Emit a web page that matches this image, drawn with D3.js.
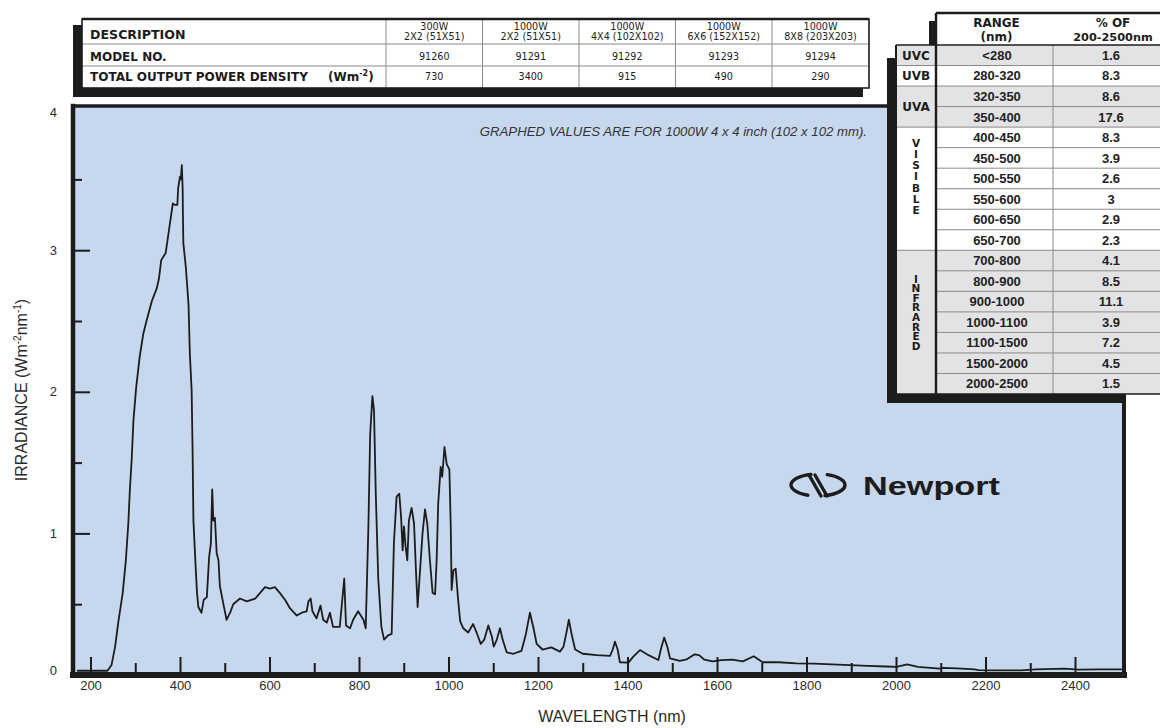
<!DOCTYPE html>
<html>
<head>
<meta charset="utf-8">
<script src="https://cdn.jsdelivr.net/npm/d3@7"></script>
<style>
  html, body { margin: 0; padding: 0; background: #ffffff; }
  svg { display: block; }
</style>
</head>
<body>
<svg id="chart" width="1160" height="728"></svg>
<script>
// ---- Spectral irradiance, 1000 W lamp, 4 x 4 inch beam ----
const wavelength = [
  170, 238, 247, 255, 262, 272, 279, 284.5, 288, 292, 296, 302, 310, 318, 326, 337, 348, 353, 358, 368,
  378, 384, 389, 394, 396, 400, 402, 404, 406, 406.5, 407.5, 413, 419, 422, 426, 428, 430, 435, 438, 441,
  448, 453, 460, 465, 469, 472, 474.5, 478, 482, 486, 489, 497, 504, 512, 519, 534, 549, 568, 579, 590,
  601, 612, 623, 635, 646, 661, 672, 683, 687, 692, 696, 705, 714, 720, 728, 735, 742, 757, 767, 771,
  780, 787, 798, 810, 815, 821, 825, 830, 833.5, 837.5, 843, 850, 856, 865, 873, 878, 884, 890, 894, 897.5,
  900.5, 904, 908, 911.5, 917.5, 923, 927.5, 931, 936, 942, 947.5, 952.5, 958.5, 964.5, 970, 973.5, 977, 982.5, 986, 991,
  996, 1002, 1005, 1007, 1011, 1016, 1021, 1026, 1033, 1044, 1055, 1064, 1072, 1080, 1089, 1097, 1101, 1108, 1115, 1121,
  1130, 1145, 1163, 1173, 1182, 1190, 1197, 1210, 1230, 1249, 1257, 1263, 1269, 1275, 1283, 1300, 1331, 1361, 1367, 1372,
  1378, 1383, 1402, 1413, 1428, 1447, 1469, 1476, 1482, 1489, 1495, 1517, 1532, 1550, 1560, 1572, 1590, 1610, 1634, 1658,
  1682, 1702, 1738, 1777, 1817, 1857, 1897, 1937, 1977, 2001, 2025, 2049, 2097, 2105, 2137, 2176, 2184, 2216, 2280, 2312,
  2376, 2408, 2456, 2505
];
const irradiance = [
  0.03, 0.03, 0.07, 0.2, 0.37, 0.58, 0.81, 1.07, 1.31, 1.52, 1.8, 2.03, 2.25, 2.41, 2.51, 2.64, 2.73, 2.8, 2.93, 2.98,
  3.2, 3.33, 3.32, 3.32, 3.44, 3.52, 3.5, 3.6, 3.43, 3.26, 3.05, 2.88, 2.62, 2.27, 2.01, 1.61, 1.09, 0.76, 0.58, 0.48,
  0.44, 0.53, 0.55, 0.83, 0.93, 1.31, 1.09, 1.11, 0.86, 0.81, 0.63, 0.5, 0.39, 0.44, 0.5, 0.54, 0.52, 0.54, 0.58, 0.62,
  0.61, 0.62, 0.58, 0.53, 0.47, 0.42, 0.44, 0.45, 0.52, 0.54, 0.45, 0.4, 0.49, 0.39, 0.37, 0.44, 0.34, 0.34, 0.68, 0.35,
  0.33, 0.39, 0.45, 0.39, 0.33, 1.05, 1.7, 1.97, 1.87, 1.28, 0.68, 0.34, 0.25, 0.28, 0.29, 0.93, 1.26, 1.28, 1.12, 0.88,
  1.05, 0.91, 0.81, 1.09, 1.18, 1.07, 0.72, 0.48, 0.72, 1.0, 1.17, 1.07, 0.81, 0.58, 0.57, 0.81, 1.21, 1.47, 1.4, 1.61,
  1.49, 1.45, 1.05, 0.6, 0.74, 0.75, 0.55, 0.38, 0.33, 0.3, 0.36, 0.29, 0.22, 0.25, 0.35, 0.27, 0.2, 0.25, 0.33, 0.25,
  0.16, 0.15, 0.17, 0.29, 0.44, 0.33, 0.22, 0.18, 0.195, 0.165, 0.2, 0.29, 0.39, 0.29, 0.18, 0.15, 0.14, 0.135, 0.18, 0.235,
  0.18, 0.09, 0.087, 0.13, 0.176, 0.14, 0.106, 0.2, 0.264, 0.2, 0.118, 0.1, 0.11, 0.146, 0.14, 0.108, 0.096, 0.105, 0.108, 0.096,
  0.132, 0.09, 0.09, 0.082, 0.08, 0.075, 0.07, 0.065, 0.06, 0.058, 0.075, 0.058, 0.045, 0.05, 0.047, 0.04, 0.035, 0.032, 0.033, 0.04,
  0.045, 0.038, 0.04, 0.04
];

// Axis ticks
const xMajorTicks = [200, 400, 600, 800, 1000, 1200, 1400, 1600, 1800, 2000, 2200, 2400];
const xMinorTicks = [300, 500, 700, 900, 1100, 1300, 1500, 1700, 1900, 2100, 2300];
const yMajorTicks = [1, 2, 3];
const yMinorTicks = [0.5, 1.5, 2.5, 3.5];
const yTickLabels = [0, 1, 2, 3, 4];

// Lamp / model table
const tableRowLabels = ["DESCRIPTION", "MODEL NO.", "TOTAL OUTPUT POWER DENSITY"];
const lampPower = ["300W", "1000W", "1000W", "1000W", "1000W"];
const beamSize = ["2X2 (51X51)", "2X2 (51X51)", "4X4 (102X102)", "6X6 (152X152)", "8X8 (203X203)"];
const modelNumbers = ["91260", "91291", "91292", "91293", "91294"];
const powerDensity = ["730", "3400", "915", "490", "290"];

// Spectral band table
const bandNames = ["UVC", "UVB", "UVA", "VISIBLE", "INFRARED"];
const bandRowCounts = [1, 1, 2, 6, 7];
const bandRanges = ["<280", "280-320", "320-350", "350-400", "400-450", "450-500", "500-550", "550-600",
  "600-650", "650-700", "700-800", "800-900", "900-1000", "1000-1100", "1100-1500", "1500-2000", "2000-2500"];
const bandPercent = ["1.6", "8.3", "8.6", "17.6", "8.3", "3.9", "2.6", "3", "2.9", "2.3",
  "4.1", "8.5", "11.1", "3.9", "7.2", "4.5", "1.5"];

// ---------------------------------------------------------------
const INK = "#1c1c1c";
const GRID = "#8a8a8a";
const SHADE = "#e3e3e5";
const HEAVY = "'DejaVu Sans', sans-serif";
const PLAIN = "'Liberation Sans', Arial, sans-serif";

const svg = d3.select("#chart");
svg.append("rect").attr("width", 1160).attr("height", 728).attr("fill", "#ffffff");

const plotBox = { left: 73, right: 1124, top: 106, bottom: 675 };
const x = d3.scaleLinear().domain([200, 2400]).range([90.5, 1075]);
const y = d3.scaleLinear().domain([0, 4]).range([675, 108.6]);

// plot background
svg.append("rect")
  .attr("x", plotBox.left).attr("y", plotBox.top)
  .attr("width", plotBox.right - plotBox.left).attr("height", plotBox.bottom - plotBox.top)
  .attr("fill", "#c7d8ee");

svg.append("clipPath").attr("id", "plotClip").append("rect")
  .attr("x", plotBox.left + 2).attr("y", plotBox.top + 2)
  .attr("width", plotBox.right - plotBox.left - 4).attr("height", plotBox.bottom - plotBox.top - 4);

// spectrum
const points = wavelength.map((w, i) => [w, irradiance[i]]);
svg.append("path")
  .datum(points)
  .attr("clip-path", "url(#plotClip)")
  .attr("fill", "none")
  .attr("stroke", INK)
  .attr("stroke-width", 1.8)
  .attr("stroke-linejoin", "round")
  .attr("d", d3.line().x(d => x(d[0])).y(d => y(d[1])));

// y ticks (inside, pointing right)
function styleTicks(g) {
  g.select(".domain").remove();
  g.selectAll(".tick line").attr("stroke", INK).attr("stroke-width", 2);
  g.selectAll(".tick text").remove();
}
svg.append("g").attr("transform", `translate(${plotBox.left},0)`)
  .call(d3.axisRight(y).tickValues(yMajorTicks).tickSize(17)).call(styleTicks);
svg.append("g").attr("transform", `translate(${plotBox.left},0)`)
  .call(d3.axisRight(y).tickValues(yMinorTicks).tickSize(9)).call(styleTicks);

// x ticks (inside, pointing up)
svg.append("g").attr("transform", `translate(0,${plotBox.bottom - 3})`)
  .call(d3.axisTop(x).tickValues(xMajorTicks).tickSize(15)).call(styleTicks);
svg.append("g").attr("transform", `translate(0,${plotBox.bottom - 3})`)
  .call(d3.axisTop(x).tickValues(xMinorTicks).tickSize(9)).call(styleTicks);

// frame
const fr = svg.append("g").attr("stroke", INK).attr("stroke-linecap", "square");
fr.append("line").attr("x1", plotBox.left).attr("x2", plotBox.right).attr("y1", plotBox.top).attr("y2", plotBox.top).attr("stroke-width", 3.5);
fr.append("line").attr("x1", plotBox.left).attr("x2", plotBox.left).attr("y1", plotBox.top).attr("y2", plotBox.bottom).attr("stroke-width", 4.5);
fr.append("line").attr("x1", plotBox.right).attr("x2", plotBox.right).attr("y1", plotBox.top).attr("y2", plotBox.bottom).attr("stroke-width", 4);
fr.append("line").attr("x1", plotBox.left).attr("x2", plotBox.right).attr("y1", plotBox.bottom).attr("y2", plotBox.bottom).attr("stroke-width", 6);

// tick labels
const yLab = svg.append("g").attr("transform", `translate(${plotBox.left},0)`)
  .call(d3.axisLeft(y).tickValues(yTickLabels).tickSize(0).tickPadding(16).tickFormat(d3.format("d")));
yLab.select(".domain").remove();
yLab.selectAll(".tick text")
  .attr("font-family", PLAIN).attr("font-size", 13).attr("fill", "#2a2a2a")
  .attr("dy", d => d === 0 ? "-0.05em" : d === 4 ? "0.62em" : "0.32em");

const xLab = svg.append("g").attr("transform", `translate(0,${plotBox.bottom + 3})`)
  .call(d3.axisBottom(x).tickValues(xMajorTicks).tickSize(0).tickPadding(3).tickFormat(d3.format("d")));
xLab.select(".domain").remove();
xLab.selectAll(".tick text")
  .attr("font-family", PLAIN).attr("font-size", 13).attr("fill", "#2a2a2a");

// axis titles
svg.append("text")
  .attr("x", 612).attr("y", 722)
  .attr("text-anchor", "middle")
  .attr("font-family", PLAIN).attr("font-size", 16).attr("fill", "#2a2a2a")
  .text("WAVELENGTH (nm)");

const yTitle = svg.append("text")
  .attr("transform", "translate(27,390) rotate(-90)")
  .attr("text-anchor", "middle")
  .attr("font-family", PLAIN).attr("font-size", 16).attr("fill", "#2a2a2a");
yTitle.append("tspan").text("IRRADIANCE (Wm");
yTitle.append("tspan").attr("font-size", 10).attr("dy", -6).text("-2");
yTitle.append("tspan").attr("dy", 6).text("nm");
yTitle.append("tspan").attr("font-size", 10).attr("dy", -6).text("-1");
yTitle.append("tspan").attr("dy", 6).text(")");

// note in plot
svg.append("text")
  .attr("x", 867).attr("y", 136)
  .attr("text-anchor", "end")
  .attr("font-family", PLAIN).attr("font-style", "italic").attr("font-size", 13.2).attr("fill", "#333")
  .text("GRAPHED VALUES ARE FOR 1000W 4 x 4 inch (102 x 102 mm).");

// Newport logo
const logo = svg.append("g").attr("fill", "none").attr("stroke", INK).attr("stroke-width", 3.4).attr("stroke-linecap", "round");
const lcx = 818, lcy = 485, lrx = 27, lry = 11;
const pt = a => [lcx + lrx * Math.cos(a * Math.PI / 180), lcy + lry * Math.sin(a * Math.PI / 180)];
let p1 = pt(255), p2 = pt(112);
logo.append("path").attr("d", `M${p1[0]},${p1[1]} A${lrx},${lry} 0 0 0 ${p2[0]},${p2[1]}`);
p1 = pt(-70); p2 = pt(75);
logo.append("path").attr("d", `M${p1[0]},${p1[1]} A${lrx},${lry} 0 0 1 ${p2[0]},${p2[1]}`);
logo.append("line").attr("x1", 809).attr("y1", 475).attr("x2", 821).attr("y2", 496);
logo.append("line").attr("x1", 815).attr("y1", 475).attr("x2", 827).attr("y2", 496);
svg.append("text")
  .attr("x", 863).attr("y", 495)
  .attr("font-family", PLAIN).attr("font-weight", "bold").attr("font-size", 26.5)
  .attr("textLength", 137).attr("lengthAdjust", "spacingAndGlyphs")
  .attr("fill", INK)
  .text("Newport");

// ---------------- lamp / model table ----------------
const tt = { left: 82, right: 869, top: 19, bottom: 88 };
const tRows = [19, 44, 66, 88];
const tCols = [386, 482.5, 579, 675.5, 772, 869];
const lampTable = svg.append("g");
lampTable.append("rect").attr("x", 73).attr("y", 25).attr("width", 790).attr("height", 72).attr("fill", INK);
lampTable.append("rect").attr("x", tt.left).attr("y", tt.top).attr("width", tt.right - tt.left).attr("height", tt.bottom - tt.top)
  .attr("fill", "#fff");
tRows.slice(1, 3).forEach(r => lampTable.append("line").attr("x1", tt.left).attr("x2", tt.right).attr("y1", r).attr("y2", r)
  .attr("stroke", GRID).attr("stroke-width", 1));
tCols.slice(0, 5).forEach(c => lampTable.append("line").attr("x1", c).attr("x2", c).attr("y1", tt.top).attr("y2", tt.bottom)
  .attr("stroke", GRID).attr("stroke-width", 1));
lampTable.append("rect").attr("x", tt.left).attr("y", tt.top).attr("width", tt.right - tt.left).attr("height", tt.bottom - tt.top)
  .attr("fill", "none").attr("stroke", INK).attr("stroke-width", 1.6);
lampTable.append("line").attr("x1", tt.left).attr("x2", tt.right).attr("y1", tt.top).attr("y2", tt.top).attr("stroke", INK).attr("stroke-width", 2.6);

const rowLabelY = [34.5, 56.5, 77];
tableRowLabels.forEach((t, i) => {
  lampTable.append("text").attr("x", 90).attr("y", rowLabelY[i]).attr("dy", "0.36em")
    .attr("font-family", HEAVY).attr("font-weight", "bold").attr("font-size", i === 0 ? 12.6 : 12).attr("fill", INK).text(t);
  if (i === 2) {
    const unit = lampTable.append("text").attr("x", 328).attr("y", rowLabelY[i]).attr("dy", "0.36em")
      .attr("font-family", HEAVY).attr("font-weight", "bold").attr("font-size", 12).attr("fill", INK);
    unit.append("tspan").text("(Wm");
    unit.append("tspan").attr("font-size", 8).attr("dy", -5).text("-2");
    unit.append("tspan").attr("dy", 5).text(")");
  }
});
const colCenter = i => (tCols[i] + tCols[i + 1]) / 2;
const cellText = (t, i, yy) => lampTable.append("text").attr("x", colCenter(i)).attr("y", yy).attr("dy", "0.36em")
  .attr("text-anchor", "middle").attr("font-family", HEAVY).attr("font-size", 9.6).attr("fill", INK).text(t);
lampPower.forEach((t, i) => cellText(t, i, 26.5));
beamSize.forEach((t, i) => cellText(t, i, 36.8));
modelNumbers.forEach((t, i) => cellText(t, i, 56.5));
powerDensity.forEach((t, i) => cellText(t, i, 77));

// ---------------- spectral band table ----------------
const bt = { left: 896, cat: 936, mid: 1053, right: 1176, headTop: 13, bodyTop: 45, bottom: 394 };
const rowH = (bt.bottom - bt.bodyTop) / bandRanges.length;
const bandTable = svg.append("g");
// drop shadow
bandTable.append("rect").attr("x", 929).attr("y", 21).attr("width", 8).attr("height", 40).attr("fill", INK);
bandTable.append("rect").attr("x", 887).attr("y", 58).attr("width", plotBox.right + 2 - 887).attr("height", 403 - 58).attr("fill", INK);
// header
bandTable.append("rect").attr("x", bt.cat).attr("y", bt.headTop).attr("width", bt.right - bt.cat).attr("height", bt.bodyTop - bt.headTop)
  .attr("fill", "#fff");
// body
bandTable.append("rect").attr("x", bt.left).attr("y", bt.bodyTop).attr("width", bt.right - bt.left).attr("height", bt.bottom - bt.bodyTop)
  .attr("fill", "#fff");
// shaded band groups
let start = 0;
const groups = bandNames.map((n, i) => {
  const g = { name: n, first: start, count: bandRowCounts[i], shaded: i % 2 === 0 };
  start += bandRowCounts[i];
  return g;
});
groups.forEach(g => {
  if (g.shaded) bandTable.append("rect").attr("x", bt.left).attr("y", bt.bodyTop + g.first * rowH)
    .attr("width", bt.right - bt.left).attr("height", g.count * rowH).attr("fill", SHADE);
});
// row lines
bandRanges.forEach((r, i) => {
  if (i === 0) return;
  const yy = bt.bodyTop + i * rowH;
  const isGroupEdge = groups.some(g => g.first === i);
  bandTable.append("line").attr("x1", isGroupEdge ? bt.left : bt.cat).attr("x2", bt.right).attr("y1", yy).attr("y2", yy)
    .attr("stroke", GRID).attr("stroke-width", 1);
});
bandTable.append("line").attr("x1", bt.mid).attr("x2", bt.mid).attr("y1", bt.bodyTop).attr("y2", bt.bottom)
  .attr("stroke", GRID).attr("stroke-width", 1);
// outlines
bandTable.append("line").attr("x1", bt.cat).attr("x2", bt.cat).attr("y1", bt.headTop).attr("y2", bt.bottom).attr("stroke", INK).attr("stroke-width", 2.4);
bandTable.append("line").attr("x1", bt.left).attr("x2", bt.left).attr("y1", bt.bodyTop).attr("y2", bt.bottom).attr("stroke", INK).attr("stroke-width", 2);
bandTable.append("line").attr("x1", bt.left).attr("x2", bt.right).attr("y1", bt.bodyTop).attr("y2", bt.bodyTop).attr("stroke", INK).attr("stroke-width", 1.6);
bandTable.append("line").attr("x1", bt.cat).attr("x2", bt.right).attr("y1", bt.headTop).attr("y2", bt.headTop).attr("stroke", INK).attr("stroke-width", 2.6);
bandTable.append("line").attr("x1", bt.left).attr("x2", bt.right).attr("y1", bt.bottom).attr("y2", bt.bottom).attr("stroke", INK).attr("stroke-width", 1.4);

// header text
const hText = (t, xx, yy, fs) => bandTable.append("text").attr("x", xx).attr("y", yy).attr("dy", "0.36em")
  .attr("text-anchor", "middle").attr("font-family", HEAVY).attr("font-weight", "bold").attr("font-size", fs)
  .attr("fill", INK).text(t);
hText("RANGE", (bt.cat + bt.mid) / 2 + 2, 22.7, 12);
hText("(nm)", (bt.cat + bt.mid) / 2 + 2, 36.5, 12);
hText("% OF", 1113, 22.7, 12);
hText("200-2500nm", 1113, 36.5, 11.3);

// band names; long names run vertically, one upright letter under another
const stackSpacing = { VISIBLE: -0.8, INFRARED: -2.4 };
const stackCenter = { VISIBLE: 176, INFRARED: 311 };
const stackFont = 10.5;
groups.forEach(g => {
  const yc = bt.bodyTop + (g.first + g.count / 2) * rowH;
  if (g.count <= 2) {
    hText(g.name, 916, yc, 12);
  } else {
    bandTable.append("text")
      .attr("x", 916).attr("y", stackCenter[g.name])
      .attr("text-anchor", "middle")
      .style("writing-mode", "vertical-rl")
      .style("text-orientation", "upright")
      .style("letter-spacing", stackSpacing[g.name] + "px")
      .attr("font-family", HEAVY).attr("font-weight", "bold").attr("font-size", stackFont).attr("fill", INK)
      .text(g.name);
  }
});

// ranges and percentages
bandRanges.forEach((r, i) => {
  const yc = bt.bodyTop + (i + 0.5) * rowH;
  bandTable.append("text").attr("x", 997).attr("y", yc).attr("dy", "0.36em").attr("text-anchor", "middle")
    .attr("font-family", PLAIN).attr("font-weight", "bold").attr("font-size", 13).attr("fill", "#222").text(r);
  bandTable.append("text").attr("x", 1111).attr("y", yc).attr("dy", "0.36em").attr("text-anchor", "middle")
    .attr("font-family", PLAIN).attr("font-weight", "bold").attr("font-size", 13).attr("fill", "#222").text(bandPercent[i]);
});
</script>
</body>
</html>
